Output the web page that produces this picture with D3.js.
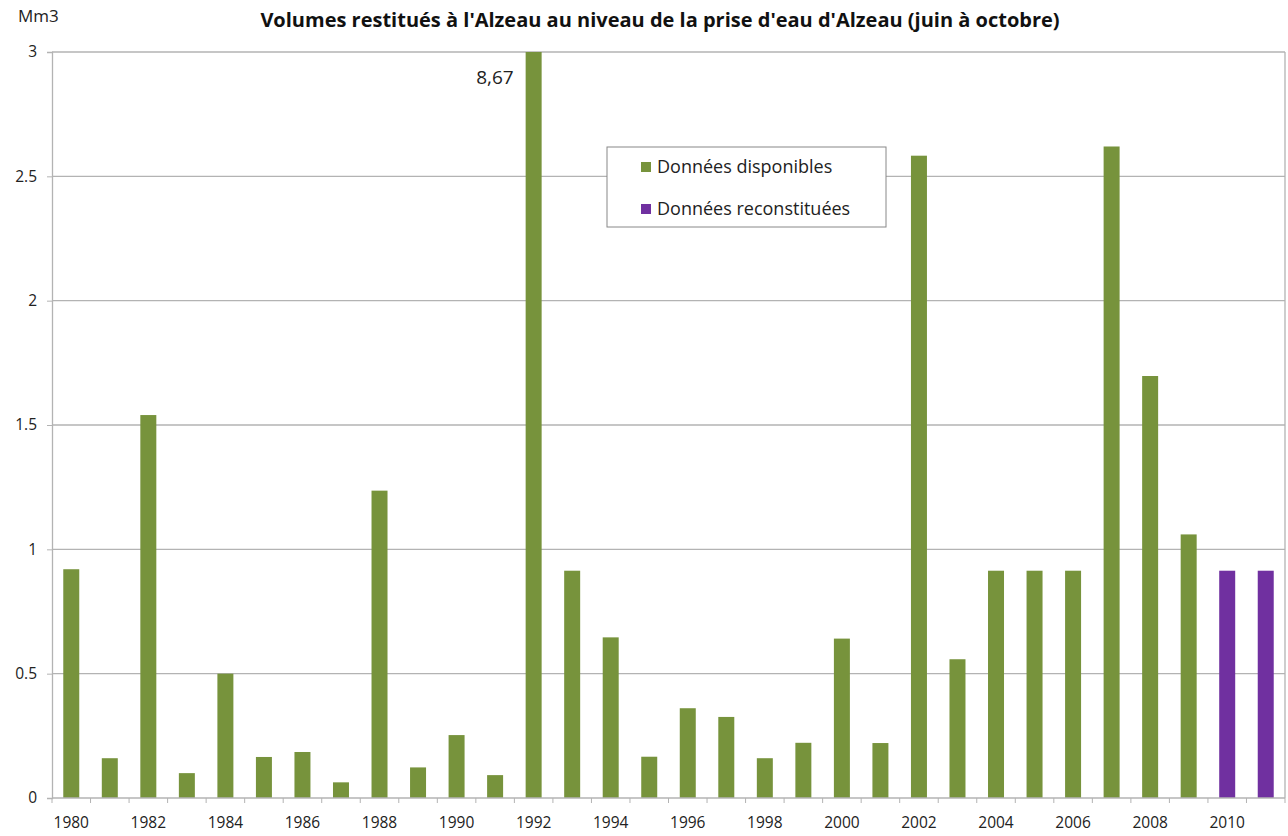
<!DOCTYPE html>
<html><head><meta charset="utf-8">
<script src="https://cdn.jsdelivr.net/npm/d3@7"></script>
<style>body{margin:0;background:#fff}svg{display:block}</style>
</head><body>
<script>
const years = d3.range(1980, 2012);
const values = [0.92,0.16,1.54,0.10,0.50,0.165,0.185,0.063,1.236,0.123,0.253,0.092,
  8.67,0.914,0.646,0.166,0.361,0.326,0.16,0.222,0.641,0.221,2.583,0.558,
  0.914,0.914,0.914,2.62,1.697,1.060,0.914,0.914];
const seriesType = ["d","d","d","d","d","d","d","d","d","d","d","d","d","d","d","d",
  "d","d","d","d","d","d","d","d","d","d","d","d","d","d","r","r"];
const yTicks = [0,0.5,1,1.5,2,2.5,3];
const yTickLabels = ["0","0.5","1","1.5","2","2.5","3"];
const legendLabels = ["Données disponibles","Données reconstituées"];
const title = "Volumes restitués à l'Alzeau au niveau de la prise d'eau d'Alzeau (juin à octobre)";
const colors = {d:"#77933C", r:"#7030A0"};

const W=1288,H=836, L=52, R=1285, T=52, B=798;
const svg = d3.select("body").append("svg").attr("width",W).attr("height",H);
const font = "'Open Sans', sans-serif";

const x = d3.scaleBand().domain(years).range([L,R]).paddingInner(0.585).paddingOuter(0.2925);
const y = d3.scaleLinear().domain([0,3]).range([B,T]);

// gridlines
svg.append("g").selectAll("line").data(yTicks.slice(1)).join("line")
  .attr("x1",L).attr("x2",R).attr("y1",d=>y(d)).attr("y2",d=>y(d))
  .attr("stroke","#b3b3b3").attr("stroke-width",1.3);
// right border
svg.append("line").attr("x1",R).attr("x2",R).attr("y1",T).attr("y2",B).attr("stroke","#b3b3b3").attr("stroke-width",1.3);

// y axis
const yAxis = d3.axisLeft(y).tickValues(yTicks).tickFormat((d,i)=>yTickLabels[i]).tickSize(5).tickPadding(10);
const gy = svg.append("g").attr("transform",`translate(${L},0)`).call(yAxis);
gy.select(".domain").attr("stroke","#b3b3b3").attr("stroke-width",1.3);
gy.selectAll(".tick line").attr("stroke","#b3b3b3");
gy.selectAll("text").attr("font-family",font).attr("font-size",15.5).attr("fill","#222");

// bars
svg.append("g").selectAll("rect").data(years).join("rect")
  .attr("x",d=>x(d)).attr("width",x.bandwidth())
  .attr("y",(d,i)=>y(Math.min(values[i],3))).attr("height",(d,i)=>B-y(Math.min(values[i],3)))
  .attr("fill",(d,i)=>colors[seriesType[i]]);

// x axis
const step = x.step();
const gx = svg.append("g").attr("transform",`translate(0,${B})`);
gx.append("line").attr("x1",L).attr("x2",R).attr("stroke","#b3b3b3").attr("stroke-width",1.3);
gx.selectAll("line.t").data(d3.range(years.length+1)).join("line").attr("class","t")
  .attr("x1",i=>L+i*step).attr("x2",i=>L+i*step).attr("y1",0).attr("y2",5).attr("stroke","#b3b3b3");
gx.selectAll("text").data(years.filter(d=>d%2===0)).join("text")
  .attr("x",d=>x(d)+x.bandwidth()/2).attr("y",30).attr("text-anchor","middle")
  .attr("font-family",font).attr("font-size",15.5).attr("fill","#222").text(d=>d);

// overflow label
const iMax = values.indexOf(d3.max(values));
svg.append("text").attr("x",x(years[iMax])-12).attr("y",84).attr("text-anchor","end")
  .attr("font-family",font).attr("font-size",19).attr("fill","#222").text(String(values[iMax]).replace(".",","));

// title & unit
svg.append("text").attr("x",660).attr("y",27).attr("text-anchor","middle")
  .attr("font-family",font).attr("font-weight","bold").attr("font-size",20).attr("fill","#111").text(title);
svg.append("text").attr("x",18).attr("y",22).attr("font-family",font).attr("font-size",17).attr("fill","#222").text("Mm3");

// legend
const lg = svg.append("g");
lg.append("rect").attr("x",607).attr("y",147).attr("width",279).attr("height",80).attr("fill","#fff").attr("stroke","#888").attr("stroke-width",1);
["d","r"].forEach((k,i)=>{
  lg.append("rect").attr("x",641).attr("y",162+i*42).attr("width",10).attr("height",10).attr("fill",colors[k]);
  lg.append("text").attr("x",657).attr("y",173+i*42).attr("font-family",font).attr("font-size",18).attr("fill","#222").text(legendLabels[i]);
});
</script>
</body></html>
